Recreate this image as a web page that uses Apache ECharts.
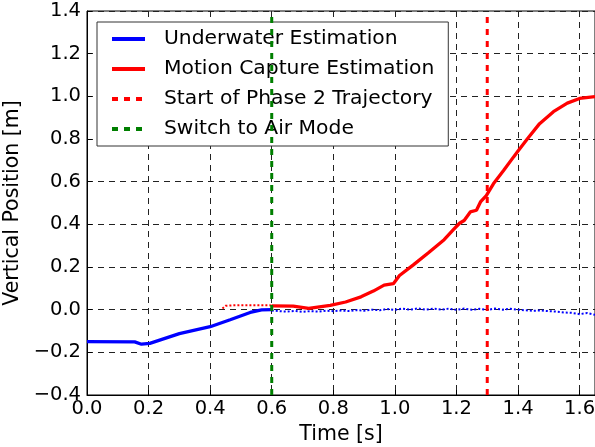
<!DOCTYPE html>
<html>
<head>
<meta charset="utf-8">
<script src="https://cdn.jsdelivr.net/npm/echarts@6/dist/echarts.min.js"></script>
<style>
  html, body { margin: 0; padding: 0; background: #fff; }
  #chart { width: 595px; height: 447px; }
</style>
</head>
<body>
<div id="chart"></div>
<script>
// ---- Data ----
const underwaterT = [0.00, 0.155, 0.177, 0.204, 0.30, 0.40, 0.465, 0.53, 0.567, 0.60];
const underwaterY = [-0.150, -0.151, -0.162, -0.158, -0.112, -0.080, -0.047, -0.013, -0.001, 0.000];

const underwaterAfterT = [0.600, 0.625, 0.650, 0.675, 0.700, 0.725, 0.750, 0.775, 0.800, 0.825,
  0.850, 0.875, 0.900, 0.925, 0.950, 0.975, 1.000, 1.025, 1.050, 1.075, 1.100, 1.125, 1.150,
  1.175, 1.200, 1.225, 1.250, 1.275, 1.300, 1.325, 1.350, 1.375, 1.400, 1.425, 1.450, 1.475,
  1.500, 1.525, 1.550, 1.575, 1.600, 1.625, 1.650];
const underwaterAfterY = [-0.004, -0.007, -0.009, -0.006, -0.010, -0.007, -0.009, -0.005, -0.007, -0.004,
  -0.006, -0.002, -0.005, 0.000, -0.003, 0.003, -0.001, 0.005, 0.000, 0.006, 0.000, 0.005, 0.000,
  0.005, -0.001, 0.005, 0.000, 0.004, -0.001, 0.005, 0.000, 0.004, 0.000, -0.003, -0.005, -0.004,
  -0.007, -0.009, -0.013, -0.015, -0.021, -0.016, -0.024];

const mocapBeforeT = [0.44, 0.45, 0.47, 0.50, 0.55, 0.60];
const mocapBeforeY = [0.005, 0.018, 0.020, 0.021, 0.021, 0.020];

const mocapT = [0.60, 0.67, 0.72, 0.79, 0.84, 0.89, 0.93, 0.965, 0.995, 1.015, 1.06, 1.11, 1.16,
  1.19, 1.21, 1.225, 1.245, 1.265, 1.278, 1.297, 1.32, 1.353, 1.385, 1.397, 1.43, 1.47, 1.515,
  1.56, 1.60, 1.65];
const mocapY = [0.018, 0.017, 0.006, 0.020, 0.036, 0.060, 0.087, 0.115, 0.122, 0.160, 0.210, 0.268, 0.328,
  0.375, 0.405, 0.418, 0.458, 0.466, 0.505, 0.535, 0.590, 0.652, 0.715, 0.738, 0.800, 0.872, 0.928,
  0.968, 0.990, 0.999];

const phase2Time = 1.3;
const airSwitchTime = 0.6;

const xMin = 0, xMax = 1.65, xStep = 0.2;
const yMin = -0.4, yMax = 1.4, yStep = 0.2;

const legendNames = ['Underwater Estimation', 'Motion Capture Estimation',
  'Start of Phase 2 Trajectory', 'Switch to Air Mode'];

// ---- Build ----
const zip = (a, b) => a.map((v, i) => [v, b[i]]);
const fmt = v => v.toFixed(1).replace('-', '\u2212');
const FONT = 'DejaVu Sans';

const chart = echarts.init(document.getElementById('chart'), null, { renderer: 'canvas' });
chart.setOption({
  backgroundColor: '#fff',
  animation: false,
  textStyle: { fontFamily: FONT },
  grid: { left: 87, top: 11, right: 0, bottom: 52, containLabel: false, outerBoundsMode: 'none',
          show: true, borderColor: '#000', borderWidth: 1, backgroundColor: 'transparent' },
  xAxis: {
    type: 'value', min: xMin, max: xMax, interval: xStep,
    name: 'Time [s]', nameLocation: 'middle', nameGap: 26,
    nameTextStyle: { fontFamily: FONT, fontSize: 20.5, color: '#000' },
    axisLine: { show: true, onZero: false, lineStyle: { color: '#000', width: 1 } },
    axisTick: { show: true, inside: true, length: 5, lineStyle: { color: '#000' } },
    axisLabel: { fontFamily: FONT, fontSize: 19.5, color: '#000', margin: 4, formatter: fmt, showMaxLabel: false },
    splitLine: { show: true, lineStyle: { color: '#222', width: 1, type: [6, 5] } }
  },
  yAxis: {
    type: 'value', min: yMin, max: yMax, interval: yStep,
    name: 'Vertical Position [m]', nameLocation: 'middle', nameGap: 57,
    nameTextStyle: { fontFamily: FONT, fontSize: 20.5, color: '#000' },
    axisLine: { show: true, onZero: false, lineStyle: { color: '#000', width: 1 } },
    axisTick: { show: true, inside: true, length: 5, lineStyle: { color: '#000' } },
    axisLabel: { fontFamily: FONT, fontSize: 19.5, color: '#000', margin: 6, formatter: fmt },
    splitLine: { show: true, lineStyle: { color: '#222', width: 1, type: [6, 5] } }
  },
  legend: {
    data: legendNames,
    orient: 'vertical', left: 97, top: 22,
    itemWidth: 33, itemHeight: 14, itemGap: 10,
    padding: [7, 14, 7, 13],
    itemStyle: { opacity: 0 },
    lineStyle: { width: 4 },
    backgroundColor: '#fff', borderColor: '#333', borderWidth: 1, borderRadius: 0,
    textStyle: { fontFamily: FONT, fontSize: 20.3, color: '#000', padding: [0, 0, 0, 14] }
  },
  series: [
    {
      name: 'Underwater Estimation', type: 'line', data: zip(underwaterT, underwaterY),
      symbol: 'none', z: 3, lineStyle: { color: '#0000ff', width: 3.3 }, itemStyle: { color: '#0000ff' }
    },
    {
      name: 'Motion Capture Estimation', type: 'line', data: zip(mocapT, mocapY),
      symbol: 'none', z: 3, lineStyle: { color: '#ff0000', width: 3.3 }, itemStyle: { color: '#ff0000' }
    },
    {
      name: 'Start of Phase 2 Trajectory', type: 'line', data: [[phase2Time, yMin], [phase2Time, yMax]],
      symbol: 'none', z: 5, lineStyle: { color: '#ff0000', width: 3, type: [6, 6] }, itemStyle: { color: '#ff0000' }
    },
    {
      name: 'Switch to Air Mode', type: 'line', data: [[airSwitchTime, yMin], [airSwitchTime, yMax]],
      symbol: 'none', z: 5, lineStyle: { color: '#007f00', width: 3, type: [6, 6] }, itemStyle: { color: '#007f00' }
    },
    {
      name: 'uw-after', type: 'line', data: zip(underwaterAfterT, underwaterAfterY),
      symbol: 'none', z: 2, lineStyle: { color: '#0000ff', width: 2, type: [2, 2] }
    },
    {
      name: 'mocap-before', type: 'line', data: zip(mocapBeforeT, mocapBeforeY),
      symbol: 'none', z: 2, lineStyle: { color: '#ff0000', width: 2, type: [2, 2] }
    }
  ]
});
</script>
</body>
</html>
